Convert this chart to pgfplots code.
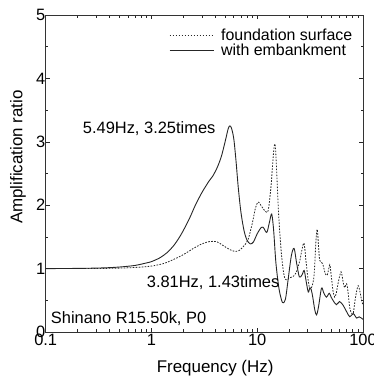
\documentclass[border=0pt]{standalone}
\usepackage{fontspec}
\setmainfont{Liberation Sans}
\usepackage{pgfplots}
\pgfplotsset{compat=1.18}
\begin{document}
\begin{tikzpicture}
\begin{axis}[
  name=ax, at={(0,0)}, anchor=south west,
  scale only axis, width=317.3bp, height=317bp,
  xmode=log, xmin=0.1, xmax=100, ymin=0, ymax=5,
  xtick={0.1,1,10,100}, xticklabels={0.1,1,10,100},
  ytick={0,1,2,3,4,5}, yticklabels={0,1,2,3,4,5},
  minor ytick={0.5,1.5,2.5,3.5,4.5},
  tick align=inside, tick pos=both,
  major tick length=4bp, minor tick length=2.5bp,
  every tick/.style={black!85, line width=0.6bp},
  axis line style={black!80, line width=0.8bp},
  font=\fontsize{16.5}{19}\selectfont,
  xticklabel style={yshift=1bp},
  yticklabel style={xshift=3bp},
  xlabel={Frequency (Hz)}, ylabel={Amplification ratio},
  xlabel style={at={(axis description cs:0.534,-0.129)}, anchor=base, font=\fontsize{17}{20}\selectfont},
  ylabel style={at={(axis description cs:-0.087,0.552)}, anchor=center, font=\fontsize{17}{20}\selectfont},
  legend cell align=left,
  legend image code/.code={\draw[#1] (0bp,0bp) -- (44bp,0bp);},
  legend style={draw=none, fill=none, at={(axis description cs:0.3886,0.962)}, anchor=north west,
    inner sep=0pt, row sep=-2bp, column sep=5bp, font=\fontsize{16}{19}\selectfont,
    nodes={inner sep=2bp}},
]
\addplot[black!85, line width=0.8bp, dash pattern=on 1.6bp off 1.4bp, smooth, tension=0.5] coordinates {
(0.1,1.0) (0.3,1.002) (0.5,1.008) (0.7,1.018) (1.0,1.04) (1.3,1.08) (1.6,1.14) (2.0,1.22) (2.5,1.32)
(3.0,1.39) (3.5,1.425) (3.81,1.43) (4.2,1.42) (4.8,1.36) (5.5,1.3) (6.2,1.27) (6.8,1.29) (7.5,1.36)
(8.2,1.46) (9.0,1.72) (9.6,1.95) (10.2,2.05) (11,1.98) (12,1.9) (12.7,1.92) (13.5,2.3) (14.3,2.85)
(14.8,2.95) (15.3,2.5) (16,1.8) (17,1.2) (18,0.88) (19,0.82) (20,0.85) (22,0.88) (23.5,0.95)
(25.3,1.13) (26.5,1.3) (27.7,1.4) (29,1.1) (30.4,0.8) (31.5,0.68) (33,0.72) (34.5,0.9) (35.8,1.4)
(36.9,1.62) (38,1.35) (39,1.13) (41.5,1.08) (44,0.92) (46,0.9) (48.5,1.06) (50,0.9) (52,0.65)
(54,0.55) (56,0.62) (58,0.76) (62,0.95) (65,0.78) (67,0.7) (70,0.76) (72,0.65) (75,0.38) (78,0.3)
(81,0.3) (85,0.55) (90,0.73) (94,0.62) (97,0.5) (100,0.42)
};
\addlegendentry{foundation surface}
\addplot[black!85, line width=0.9bp, smooth, tension=0.5] coordinates {
(0.1,1.0) (0.2,1.003) (0.3,1.008) (0.4,1.015) (0.5,1.025) (0.6,1.037) (0.7,1.05) (0.8,1.07) (0.9,1.09)
(1.0,1.11) (1.2,1.17) (1.4,1.25) (1.6,1.35) (1.8,1.47) (2.0,1.6) (2.3,1.8) (2.6,2.0) (3.0,2.2)
(3.5,2.38) (3.8,2.46) (4.2,2.6) (4.6,2.78) (5.0,3.02) (5.3,3.2) (5.49,3.25) (5.7,3.22) (6.0,3.05)
(6.3,2.7) (6.6,2.3) (7.0,1.9) (7.5,1.6) (8.0,1.45) (8.6,1.39) (9.2,1.42) (10,1.55) (10.8,1.64)
(11.4,1.65) (12.3,1.57) (13.0,1.72) (13.7,1.86) (14.3,1.6) (15,1.1) (16,0.7) (17,0.5) (17.6,0.46)
(18.5,0.52) (19.5,0.8) (21,1.2) (22.3,1.32) (23.5,1.1) (25,0.87) (26.5,0.9) (27.8,0.97) (29,0.8)
(30.4,0.63) (31.5,0.7) (32.5,0.66) (33.5,0.55) (35,0.35) (36.4,0.27) (38,0.4) (40.5,0.69) (42.5,0.62)
(45,0.55) (48,0.61) (50,0.55) (52,0.5) (56,0.43) (60,0.48) (65,0.42) (70,0.32) (75,0.24) (81,0.29)
(87,0.22) (92,0.24) (100,0.2)
};
\addlegendentry{with embankment}
\node[anchor=base west, inner sep=0pt] at (axis cs:0.2239,3.13) {5.49Hz, 3.25times};
\node[anchor=base west, inner sep=0pt] at (axis cs:0.901,0.70) {3.81Hz, 1.43times};
\node[anchor=base west, inner sep=0pt] at (axis cs:0.1115,0.136) {Shinano R15.50k, P0};
\end{axis}
\pgfresetboundingbox
\path[use as bounding box] ([shift={(-45.7bp,-49bp)}]ax.south west) rectangle ([shift={(11bp,15bp)}]ax.north east);
\end{tikzpicture}
\end{document}
